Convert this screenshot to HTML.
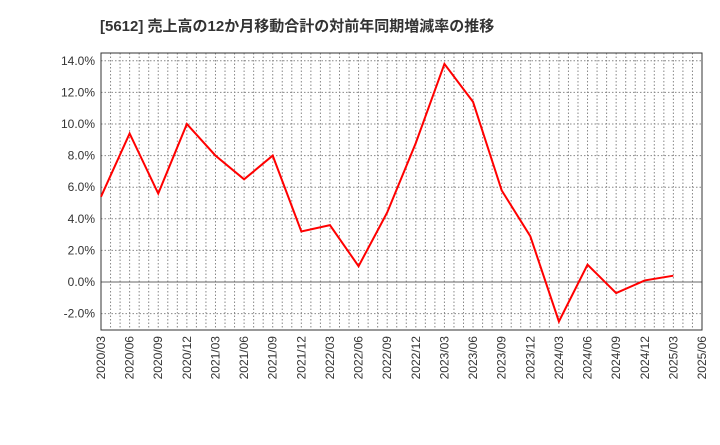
<!DOCTYPE html>
<html><head><meta charset="utf-8"><style>
body{margin:0;background:#fff;}
svg text{font-family:"Liberation Sans","Noto Sans CJK JP",sans-serif;fill:#333;}
</style></head><body>
<svg id="chart" width="720" height="440" xmlns="http://www.w3.org/2000/svg">
<text x="100" y="31" font-size="15" font-weight="bold">[5612]  売上高の12か月移動合計の対前年同期増減率の推移</text>
<g id="grid"></g><g id="axes"></g><g id="series"></g>
</svg>
<script>
const categories=["2020/03","2020/06","2020/09","2020/12","2021/03","2021/06","2021/09","2021/12","2022/03","2022/06","2022/09","2022/12","2023/03","2023/06","2023/09","2023/12","2024/03","2024/06","2024/09","2024/12","2025/03","2025/06"];
const values=[5.4,9.4,5.6,10.0,8.0,6.5,8.0,3.2,3.6,1.0,4.4,8.8,13.8,11.4,5.8,2.9,-2.5,1.1,-0.7,0.1,0.4];
const yTicks=[-2,0,2,4,6,8,10,12,14];
const NS="http://www.w3.org/2000/svg";
const L=101,R=702,T=53,B=330;
const yMin=-3,yMax=14.5;
const x=i=>L+i*(R-L)/(categories.length-1);
const y=v=>282-v*15.8;
function mk(tag,attrs,parent){const e=document.createElementNS(NS,tag);for(const k in attrs)e.setAttribute(k,attrs[k]);parent.appendChild(e);return e;}
const grid=document.getElementById('grid'),axes=document.getElementById('axes'),series=document.getElementById('series');
for(let m=1;m<(categories.length-1)*3;m++){const xx=L+m*(R-L)/((categories.length-1)*3);
const g=mk('line',{x1:xx,x2:xx,y1:T,y2:B,stroke:'#888','stroke-dasharray':'1.5,2','stroke-width':1},grid);

}
yTicks.forEach(v=>{const g=mk('line',{x1:L,x2:R,y1:y(v),y2:y(v),stroke:v===0?'#666':'#888','stroke-dasharray':v===0?'':'1.5,2','stroke-width':1},grid);


const t=mk('text',{x:L-6,y:y(v)+4,'text-anchor':'end','font-size':12},axes);t.textContent=v.toFixed(1)+'%';

});
categories.forEach((c,i)=>{const t=mk('text',{transform:`translate(${x(i)+4},${B+6}) rotate(-90)`,'text-anchor':'end','font-size':12},axes);t.textContent=c;

});
const f=mk('rect',{x:L,y:T,width:R-L,height:B-T,fill:'none',stroke:'#333','stroke-width':1},axes);


const p=mk('polyline',{points:values.map((v,i)=>x(i)+','+y(v)).join(' '),fill:'none',stroke:'#f00','stroke-width':2,'stroke-linejoin':'miter'},series);


</script>
</body></html>
